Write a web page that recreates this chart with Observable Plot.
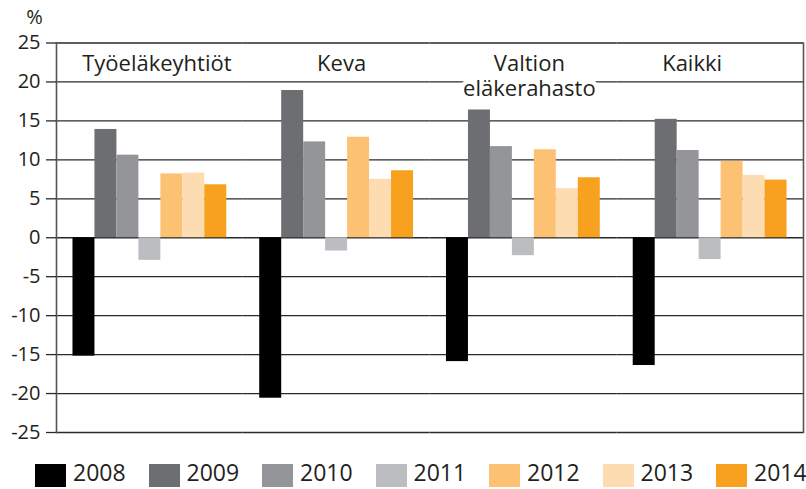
<!DOCTYPE html>
<html>
<head>
<meta charset="utf-8">
<script src="https://cdn.jsdelivr.net/npm/d3@7"></script>
<script src="https://cdn.jsdelivr.net/npm/@observablehq/plot@0.6"></script>
<style>
  html, body { margin: 0; padding: 0; background: #fff; }
  #chart { width: 806px; height: 489px; font-family: "Open Sans", sans-serif; color: #231f20; }
  div.lg-swatches { margin: 16px 0 0 35px !important; font-family: "Open Sans", sans-serif !important; font-size: 23px !important; line-height: 23px !important; min-height: 23px !important; color: #231f20; }
  div.lg-swatches.lg-swatches-wrap { flex-wrap: nowrap !important; }
  div.lg-swatches span.lg-swatch { margin-right: 0 !important; width: 113.5px; flex: 0 0 113.5px; line-height: 23px; }
  div.lg-swatches span.lg-swatch:last-child { width: auto; flex: 0 0 auto; }
  div.lg-swatches span.lg-swatch > svg { margin-right: 7px !important; position: relative; top: 3px; }
</style>
</head>
<body>
<div id="chart"></div>
<script>
const groups = ["Työeläkeyhtiöt", "Keva", "Valtion\neläkerahasto", "Kaikki"];
const years = ["2008", "2009", "2010", "2011", "2012", "2013", "2014"];
const colors = ["#000000", "#6d6e71", "#939598", "#bcbdc0", "#fdc174", "#fedcb2", "#f7a11e"];
// values per year, in group order
const v2008 = [-15.2, -20.6, -15.9, -16.4];
const v2009 = [13.9, 18.9, 16.4, 15.2];
const v2010 = [10.6, 12.3, 11.7, 11.2];
const v2011 = [-2.9, -1.7, -2.3, -2.8];
const v2012 = [8.2, 12.9, 11.3, 9.8];
const v2013 = [8.3, 7.5, 6.3, 8.0];
const v2014 = [6.8, 8.6, 7.7, 7.4];
const yTicks = [-25, -20, -15, -10, -5, 0, 5, 10, 15, 20, 25];
const yLabel = "%";

const series = [v2008, v2009, v2010, v2011, v2012, v2013, v2014];
const data = [];
groups.forEach((g, gi) => years.forEach((y, yi) => data.push({group: g, year: y, value: series[yi][gi]})));

const font = "Open Sans";
const labelOffsets = [7, 5, 6, -18];
const labelMarks = groups.map((g, i) => Plot.text([g], {
  fx: d => d, text: d => d, frameAnchor: "top", lineAnchor: "top", dy: 10, dx: labelOffsets[i],
  fontSize: 22, lineHeight: 1.14, fill: "#231f20", stroke: "white", strokeWidth: 9
}));

const plot = Plot.plot({
  width: 806,
  height: 445,
  marginLeft: 56,
  marginRight: 3,
  marginTop: 42.5,
  marginBottom: 13,
  style: {fontFamily: font, color: "#231f20", background: "white", overflow: "visible"},
  fx: {domain: groups, padding: 0, axis: null, round: false},
  x: {domain: years, paddingInner: 0, paddingOuter: 0.75, axis: null, round: false},
  y: {domain: [-25, 25]},
  color: {domain: years, range: colors},
  marks: [
    Plot.gridY(yTicks, {stroke: "#2a2a2a", strokeOpacity: 1, strokeWidth: 1.3}),
    Plot.barY(data, {fx: "group", x: "year", y: "value", fill: "year"}),
    Plot.frame({anchor: "left", facetAnchor: "left", stroke: "#555", strokeWidth: 1.6}),
    Plot.frame({anchor: "right", facetAnchor: "right", stroke: "#555", strokeWidth: 1.6}),
    Plot.axisY({ticks: yTicks, tickSize: 10, tickPadding: 6, tickFormat: d => String(d), fontSize: 20, label: null, stroke: "#2a2a2a", strokeWidth: 1.3}),
    ...labelMarks,
    Plot.text([yLabel], {frameAnchor: "top-left", facetAnchor: "left", text: d => d, dx: -22, dy: -25.5, fontSize: 20, textAnchor: "middle", lineAnchor: "middle", fill: "#231f20"})
  ]
});

const legend = plot.legend("color", {legend: "swatches", swatchWidth: 31, swatchHeight: 23, className: "lg"});
const chart = document.getElementById("chart");
chart.appendChild(plot);
chart.appendChild(legend);
</script>
</body>
</html>
